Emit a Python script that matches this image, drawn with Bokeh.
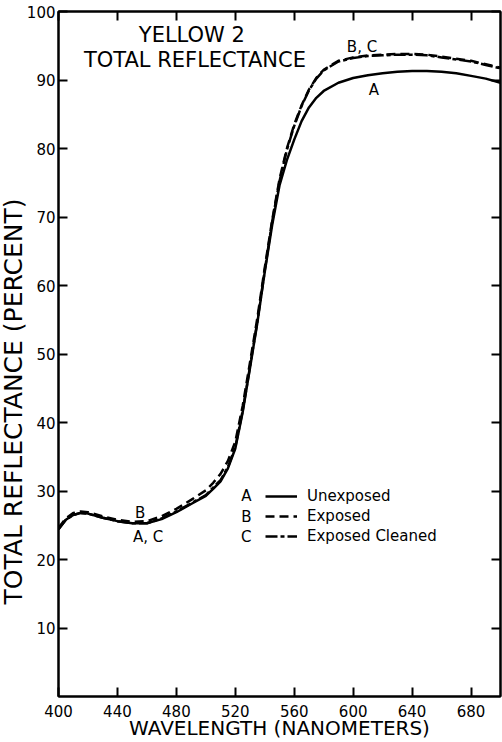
from bokeh.plotting import figure
from bokeh.models import (Range1d, LinearAxis, FixedTicker, Label, Legend,
                          LegendItem, ColumnDataSource, CustomJSTickFormatter,
                          Title)
from bokeh.embed import file_html
from bokeh.resources import INLINE

# Total reflectance of Yellow 2 versus wavelength
wavelength = [400, 405, 410, 415, 420, 430, 440, 450, 460, 470, 480, 490, 500,
              505, 510, 515, 520, 525, 530, 535, 540, 545, 550, 555, 560, 565,
              570, 575, 580, 590, 600, 610, 620, 630, 640, 650, 660, 670, 680,
              690, 700]
unexposed = [24.4, 25.8, 26.5, 26.8, 26.7, 26.1, 25.6, 25.3, 25.3, 25.9,
             26.9, 28.1, 29.3, 30.3, 31.4, 33.3, 36.2, 41.5, 48.0, 54.6,
             62.0, 68.8, 74.6, 78.3, 81.3, 84.0, 86.0, 87.4, 88.4, 89.6,
             90.3, 90.7, 91.0, 91.2, 91.3, 91.3, 91.2, 91.0, 90.6, 90.2, 89.6]
exposed = [24.6, 26.0, 26.8, 27.0, 26.9, 26.3, 25.8, 25.5, 25.6, 26.3,
           27.4, 28.7, 30.1, 31.2, 32.5, 34.4, 37.2, 42.4, 48.8, 55.3,
           62.6, 69.5, 75.5, 80.0, 83.5, 86.3, 88.6, 90.3, 91.5, 92.8,
           93.3, 93.6, 93.7, 93.8, 93.8, 93.7, 93.4, 93.1, 92.8, 92.3, 91.8]
exposed_cleaned = [24.4, 25.8, 26.5, 26.8, 26.7, 26.1, 25.6, 25.3, 25.3, 26.0,
                   27.0, 28.2, 29.4, 30.5, 31.6, 33.5, 36.4, 41.7, 48.2, 54.8,
                   62.2, 69.3, 75.2, 79.8, 83.3, 86.2, 88.5, 90.2, 91.4, 92.7,
                   93.2, 93.5, 93.6, 93.7, 93.7, 93.6, 93.3, 93.0, 92.7, 92.2, 91.7]

x_ticks = [400, 440, 480, 520, 560, 600, 640, 680]
y_ticks = [10, 20, 30, 40, 50, 60, 70, 80, 90, 100]

series_letters = ["A", "B", "C"]
series_names = ["Unexposed", "Exposed", "Exposed Cleaned"]

FONT = "DejaVu Sans"
INK = "black"

src = ColumnDataSource(dict(wl=wavelength, a=unexposed, b=exposed, c=exposed_cleaned))

p = figure(width=502, height=742, output_backend="svg", toolbar_location=None,
           x_range=Range1d(400, 700), y_range=Range1d(0, 100),
           min_border_left=58, min_border_right=2, min_border_top=11,
           min_border_bottom=45)
p.outline_line_color = INK
p.outline_line_width = 2
p.grid.visible = False
p.background_fill_color = "white"
p.border_fill_color = "white"

blank = CustomJSTickFormatter(code="return ''")


def style_axis(ax, labels=True):
    ax.axis_line_color = INK
    ax.axis_line_width = 2
    ax.major_tick_line_color = INK
    ax.major_tick_line_width = 2
    ax.major_tick_in = 9
    ax.major_tick_out = 0
    ax.minor_tick_line_color = None
    if labels:
        ax.major_label_text_font = FONT
        ax.major_label_text_font_size = "15px"
        ax.major_label_text_color = INK
    else:
        # tick marks only; a small standoff keeps the axis panel non-empty
        ax.formatter = blank
        ax.major_label_text_font_size = "8px"
        ax.major_label_standoff = 2


xax = p.xaxis[0]
style_axis(xax)
xax.ticker = FixedTicker(ticks=x_ticks)
xax.major_label_standoff = 8
xax.axis_label = "WAVELENGTH (NANOMETERS)"
xax.axis_label_text_font = FONT
xax.axis_label_text_font_style = "normal"
xax.axis_label_text_font_size = "20px"
xax.axis_label_text_color = INK
xax.axis_label_standoff = -4

yax = p.yaxis[0]
style_axis(yax)
yax.ticker = FixedTicker(ticks=y_ticks)
yax.major_label_standoff = 3

# vertical title on the left, anchored from the bottom of the frame
p.add_layout(Title(text="TOTAL REFLECTANCE (PERCENT)", align="left",
                   offset=92, standoff=-8, text_font=FONT,
                   text_font_style="normal", text_font_size="25px",
                   text_color=INK), "left")

top_axis = LinearAxis(ticker=FixedTicker(ticks=x_ticks))
style_axis(top_axis, labels=False)
p.add_layout(top_axis, "above")
right_axis = LinearAxis(ticker=FixedTicker(ticks=y_ticks))
style_axis(right_axis, labels=False)
p.add_layout(right_axis, "right")

# curves: cleaned under, exposed, unexposed on top
rc = p.line("wl", "c", source=src, line_color=INK, line_width=2.5, line_dash="12 3 4 3")
rb = p.line("wl", "b", source=src, line_color=INK, line_width=2.5, line_dash="9 5")
ra = p.line("wl", "a", source=src, line_color=INK, line_width=2.5)

legend = Legend(items=[LegendItem(label=series_names[0], renderers=[ra]),
                       LegendItem(label=series_names[1], renderers=[rb]),
                       LegendItem(label=series_names[2], renderers=[rc])],
                location=(207, 150), orientation="vertical",
                background_fill_alpha=0, border_line_color=None,
                label_text_font=FONT, label_text_font_size="15px",
                label_text_color=INK, glyph_width=32, glyph_height=20,
                label_height=20, label_standoff=10, spacing=0, padding=0,
                margin=0)
p.add_layout(legend, "center")

# letters in front of the legend rows
for letter, yv in zip(series_letters, [29.2, 26.2, 23.3]):
    p.add_layout(Label(x=527.5, y=yv, text=letter, text_font=FONT,
                       text_font_size="15px", text_color=INK,
                       text_align="center", text_baseline="middle"))

# chart heading
p.add_layout(Label(x=490.5, y=96.6, text="YELLOW 2", text_font=FONT,
                   text_font_size="21px", text_color=INK,
                   text_align="center", text_baseline="middle"))
p.add_layout(Label(x=492.6, y=92.9, text="TOTAL REFLECTANCE", text_font=FONT,
                   text_font_size="21px", text_color=INK,
                   text_align="center", text_baseline="middle"))

# curve tags
curve_tags = [("B", 455.4, 26.8), ("A, C", 460.8, 23.3),
              ("B, C", 606.0, 94.8), ("A", 614.0, 88.5)]
for txt, xv, yv in curve_tags:
    p.add_layout(Label(x=xv, y=yv, text=txt, text_font=FONT,
                       text_font_size="15px", text_color=INK,
                       text_align="center", text_baseline="middle"))

open("out.html", "w").write(file_html(p, INLINE))
